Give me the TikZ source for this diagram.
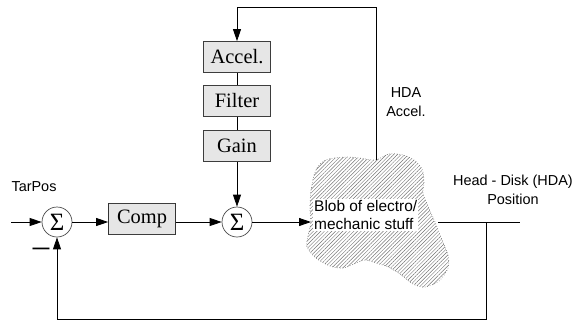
\documentclass[tikz,border=0pt]{standalone}
\usepackage{fontspec}
\setmainfont{Liberation Serif}
\newfontfamily\sansf{Liberation Sans}
\usetikzlibrary{arrows.meta,patterns,patterns.meta}
\begin{document}
\begin{tikzpicture}[x=1bp,y=-1bp,
  every node/.style={inner sep=0pt},
  blk/.style={draw=black!80, fill=black!8, minimum width=67bp, minimum height=31bp,
    font=\fontsize{20.5}{22}\selectfont, line width=0.7bp,
    postaction={pattern={Dots[distance=2bp,radius=0.35bp]}, pattern color=black!30}},
  sumc/.style={circle, draw=black!70, fill=white, minimum size=30bp,
    font=\fontsize{25}{25}\selectfont, line width=0.7bp},
  lbl/.style={font=\sansf\fontsize{14.5}{18.5}\selectfont, align=center},
  conn/.style={line width=0.8bp, draw=black},
  arr/.style={conn, -{Triangle[length=12bp,width=8bp]}},
]
\useasboundingbox (0,0) rectangle (577,324);

% blob
\def\blobpath{plot[smooth cycle, tension=0.55] coordinates {
 (376,160) (389,154) (403,155) (414,160) (422,169) (424,182) (423,193)
 (428,206) (435,222) (442,240) (448,255) (448,268) (439,281) (425,287)
 (413,284) (400,274) (388,267) (376,263) (365,260) (354,264) (343,268)
 (330,266) (316,258) (307,247) (308,236) (311,222) (310,210) (311,190)
 (316,170) (326,160) (347,157) (366,159)}}
\fill[pattern={Lines[angle=45,distance=2.6bp,line width=0.45bp]}, pattern color=black!55] \blobpath;
\draw[dotted, black!60, line width=0.6bp] \blobpath;
\node[font=\sansf\fontsize{15.5}{18}\selectfont, fill=white, align=left, anchor=west, inner sep=1bp] (blob) at (313,215)
  {Blob of electro/\\mechanic stuff};
\coordinate (blobin) at (311,222);
\coordinate (blobtop) at (376,160);
\coordinate (blobout) at (438,222);

% nodes
\coordinate (in) at (11,222);
\node[sumc] (s1) at (57,222) {Σ};
\node[blk] (comp) at (142,219) {Comp};
\node[sumc] (s2) at (237,222) {Σ};
\node[blk] (acc) at (237,57) {Accel.};
\node[blk] (fil) at (237,101) {Filter};
\node[blk] (gain) at (237,146) {Gain};
\coordinate (outend) at (520,222);
\coordinate (tap) at (486,222);

% labels
\node[lbl] (tarpos) at (34,187) {TarPos};
\node[lbl] (hda) at (406,102) {HDA\\Accel.};
\node[lbl] (hdpos) at (513,190) {Head - Disk (HDA)\\Position};
\node[font=\sansf\bfseries\fontsize{17}{17}\selectfont] (minus) at (41,251) {—};

% connectors
\draw[arr] (in) -- (s1.west);
\draw[arr] (s1.east) -- (comp.west |- s1);
\draw[arr] (comp.east |- s2) -- (s2.west);
\draw[arr] (s2.east) -- (blobin);
\draw[conn] (blobout) -- (outend);
\draw[arr] (tap) -- (486,319) -| (s1.south);
\draw[arr] (blobtop) -- (376,7) -| (acc.north);
\draw[conn] (acc.south) -- (fil.north);
\draw[conn] (fil.south) -- (gain.north);
\draw[arr] (gain.south) -- (s2.north);
\end{tikzpicture}
\end{document}
